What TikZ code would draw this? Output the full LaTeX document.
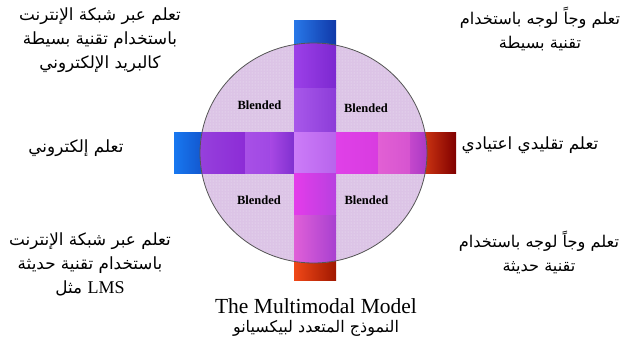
\documentclass[tikz,border=0pt]{standalone}
\usepackage{fontspec}
\setmainfont{Liberation Serif}
\newfontfamily\arabicfont[Script=Arabic]{DejaVu Sans}
\TeXXeTstate=1
\usetikzlibrary{patterns}
\definecolor{circfill}{HTML}{DCC4E6}
\definecolor{circline}{HTML}{555555}
\tikzset{
  artext/.style={font=\arabicfont\fontsize{16.8}{24}\selectfont, align=center, inner sep=0pt, text=black},
  artextr/.style={artext, font=\arabicfont\fontsize{16.2}{24}\selectfont},
  blend/.style={font=\bfseries\fontsize{12.5}{13}\selectfont, inner sep=0pt},
}
\begin{document}
\begin{tikzpicture}[x=1pt,y=-1pt]
\useasboundingbox (0,0) rectangle (625,349);
\fill[white] (0,0) rectangle (625,349);
% caps (behind circle)
\shade[left color={rgb,255:red,40;green,120;blue,232}, right color={rgb,255:red,16;green,56;blue,168}] (294,20) rectangle (336,60);
\shade[left color={rgb,255:red,24;green,120;blue,240}, right color={rgb,255:red,16;green,72;blue,192}] (174,132) rectangle (215,173);
\shade[left color={rgb,255:red,232;green,72;blue,24}, right color={rgb,255:red,128;green,0;blue,0}] (412,132) rectangle (456,173);
\shade[left color={rgb,255:red,240;green,72;blue,24}, right color={rgb,255:red,160;green,24;blue,0}] (294,245) rectangle (336,280);
% circle
\coordinate (c) at (313.5,153);
\fill[circfill] (c) ellipse [x radius=113.5, y radius=110];
\fill[pattern=dots, pattern color=white!60!circfill] (c) ellipse [x radius=113.5, y radius=110];
\begin{scope}
\clip (c) ellipse [x radius=113.5, y radius=110];
% horizontal bar (left part)
\shade[left color={rgb,255:red,150;green,64;blue,220}, right color={rgb,255:red,140;green,44;blue,214}] (200,132) rectangle (245,173);
\shade[left color={rgb,255:red,168;green,80;blue,230}, right color={rgb,255:red,160;green,72;blue,228}] (245,132) rectangle (270,173);
\shade[left color={rgb,255:red,168;green,72;blue,228}, right color={rgb,255:red,128;green,48;blue,208}] (270,132) rectangle (294,173);
% vertical bar
\shade[left color={rgb,255:red,156;green,64;blue,232}, right color={rgb,255:red,124;green,40;blue,208}] (294,40) rectangle (336,88);
\shade[left color={rgb,255:red,168;green,88;blue,234}, right color={rgb,255:red,140;green,60;blue,216}] (294,88) rectangle (336,132);
\shade[left color={rgb,255:red,204;green,124;blue,248}, right color={rgb,255:red,184;green,100;blue,236}] (294,132) rectangle (336,173);
\shade[left color={rgb,255:red,228;green,60;blue,234}, right color={rgb,255:red,184;green,64;blue,224}] (294,173) rectangle (336,215);
\shade[left color={rgb,255:red,224;green,96;blue,216}, right color={rgb,255:red,168;green,64;blue,208}] (294,215) rectangle (336,266);
% horizontal bar (right part)
\shade[left color={rgb,255:red,224;green,64;blue,232}, right color={rgb,255:red,216;green,60;blue,224}] (336,132) rectangle (378,173);
\shade[left color={rgb,255:red,226;green,96;blue,212}, right color={rgb,255:red,214;green,84;blue,208}] (378,132) rectangle (410,173);
\shade[left color={rgb,255:red,196;green,72;blue,204}, right color={rgb,255:red,168;green,56;blue,196}] (410,132) rectangle (428,173);
\end{scope}
\draw[circline, line width=0.8pt] (c) ellipse [x radius=113.5, y radius=110];
% Blended labels
\node[blend] (b1) at (259.5,105) {Blended};
\node[blend] (b2) at (366,108) {Blended};
\node[blend] (b3) at (259,200) {Blended};
\node[blend] (b4) at (366.5,200) {Blended};
% Arabic texts
\node[artext] (tl) at (100,40) {\beginR تعلم عبر شبكة الإنترنت\endR\\ \beginR باستخدام تقنية بسيطة\endR\\ \beginR كالبريد الإلكتروني\endR};
\node[artextr] (tr) at (540,29) {\beginR تعلم وجاً لوجه باستخدام\endR\\ \beginR تقنية بسيطة\endR};
\node[artext] (ml) at (76,148) {\beginR تعلم إلكتروني\endR};
\node[artext] (mr) at (530,145) {\beginR تعلم تقليدي اعتيادي\endR};
\node[artext] (bl) at (90,264) {\beginR تعلم عبر شبكة الإنترنت\endR\\ \beginR باستخدام تقنية حديثة\endR\\ \beginR مثل\endR\ {\rmfamily\fontsize{18}{18}\selectfont LMS}};
\node[artextr] (br) at (539,252.5) {\beginR تعلم وجاً لوجه باستخدام\endR\\ \beginR تقنية حديثة\endR};
% title
\node[font=\fontsize{21.5}{22}\selectfont, inner sep=0pt] (title) at (316,306) {The Multimodal Model};
\node[artext, font=\arabicfont\fontsize{16}{20}\selectfont] (subtitle) at (316,328) {\beginR النموذج المتعدد لبيكسيانو\endR};
\end{tikzpicture}
\end{document}
